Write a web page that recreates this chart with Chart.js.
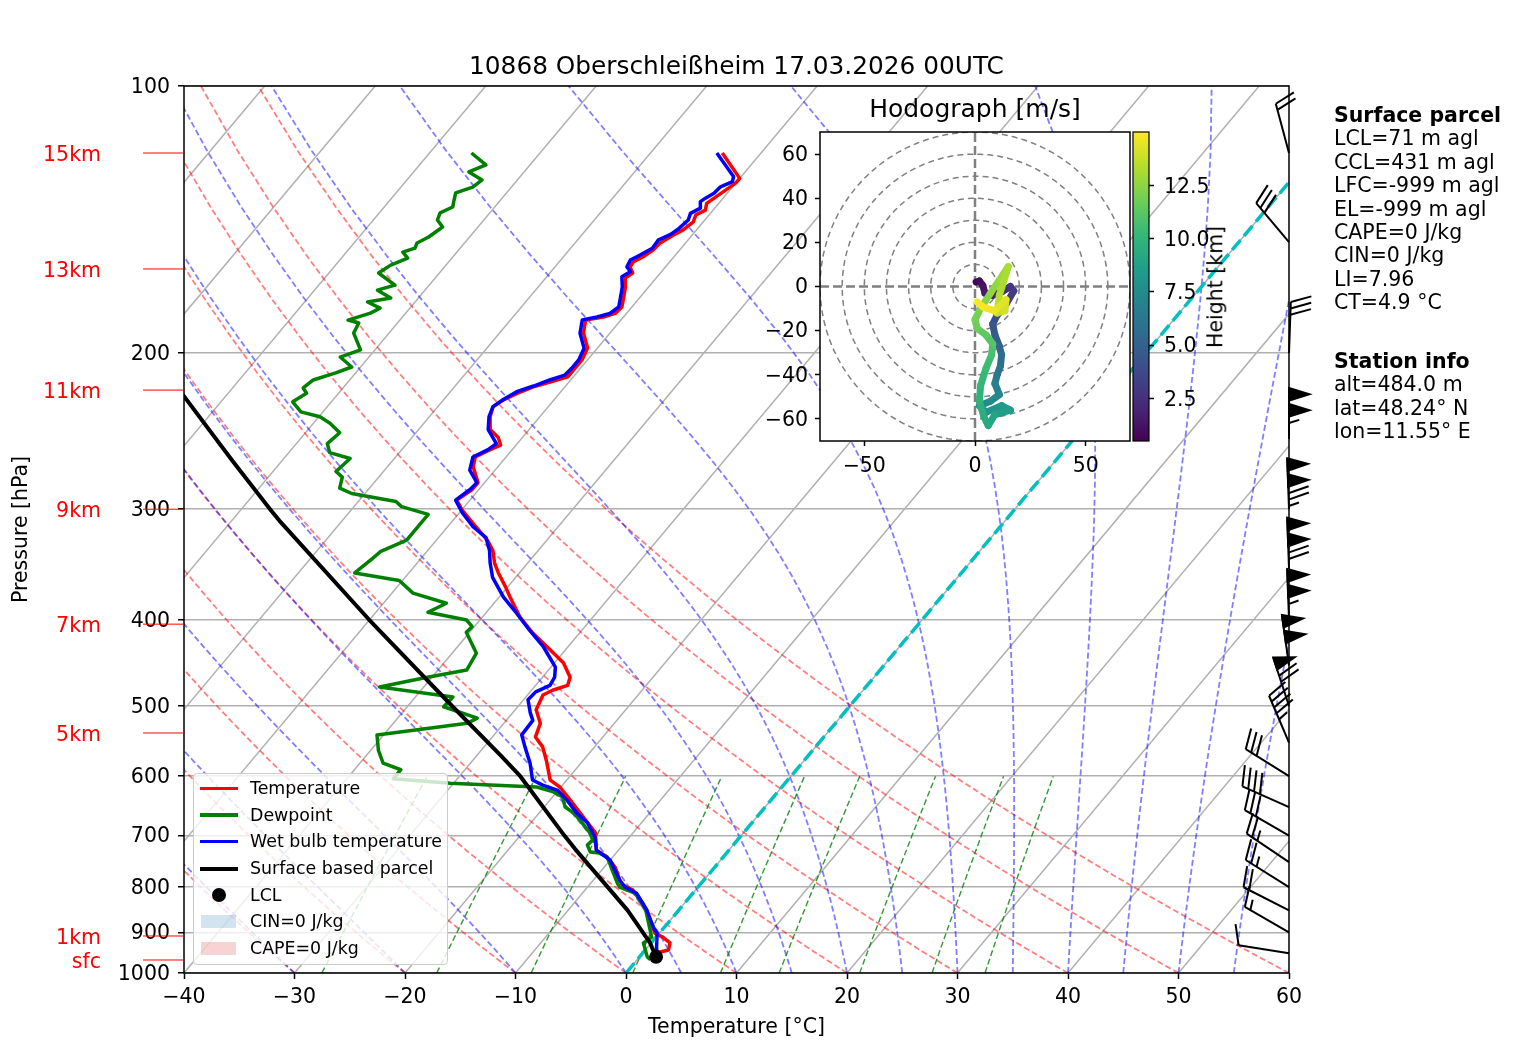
<!DOCTYPE html>
<html>
<head>
<meta charset="utf-8">
<title>10868 Oberschleißheim skew-T</title>
<script src="https://cdn.jsdelivr.net/npm/chart.js@4.4.1/dist/chart.umd.min.js"></script>
<style>
  body { margin: 0; background: #fff; font-family: "DejaVu Sans", sans-serif; }
  #fig { position: relative; width: 1517px; height: 1060px; overflow: hidden; background: #fff; }
  #fig canvas { position: absolute; }
  .lbl { position: absolute; white-space: nowrap; color: #000; font-size: 20.5px; line-height: 23.4px; }
  .km { color: #ff0000; text-align: right; width: 100px; left: 1px; }
  #title { left: 184px; width: 1105px; top: 53.5px; text-align: center; font-size: 24.8px; line-height: 24.8px; }
  #hodoTitle { left: 820px; width: 310px; top: 95.5px; text-align: center; font-size: 25px; line-height: 25px; }
  #cbarTitle { left: 1216px; top: 287px; transform: translate(-50%, -50%) rotate(-90deg); }
  #legend { position: absolute; left: 193px; top: 773px; width: 255px; height: 192px; box-sizing: border-box;
            border: 1px solid #cccccc; border-radius: 4px; background: rgba(255,255,255,0.8); font-size: 17.4px; }
  #legend .row { position: absolute; left: 0; width: 100%; height: 26.67px; line-height: 26.67px; }
  #legend .t { position: absolute; left: 56px; top: 0; white-space: nowrap; }
  #legend .ln { position: absolute; left: 6px; width: 38px; top: 11.6px; height: 3.5px; }
  #legend .dot { position: absolute; left: 18px; top: 6.3px; width: 14px; height: 14px; border-radius: 50%; background: #000; }
  #legend .patch { position: absolute; left: 7px; top: 7px; width: 35px; height: 12.5px; }
</style>
</head>
<body>
<div id="fig">
  <canvas id="skewt" width="1517" height="1060" style="left:0;top:0"></canvas>
  <canvas id="hodo" width="380" height="400" style="left:760px;top:86px"></canvas>
  <canvas id="cbar" width="120" height="400" style="left:1130px;top:86px"></canvas>

  <div class="lbl" id="title">10868 Oberschleißheim 17.03.2026 00UTC</div>
  <div class="lbl" id="hodoTitle">Hodograph [m/s]</div>
  <div class="lbl" id="cbarTitle">Height [km]</div>

  <div class="lbl" style="left:1334px;top:104px"><b>Surface parcel</b><br>LCL=71 m agl<br>CCL=431 m agl<br>LFC=-999 m agl<br>EL=-999 m agl<br>CAPE=0 J/kg<br>CIN=0 J/kg<br>LI=7.96<br>CT=4.9 °C</div>
  <div class="lbl" style="left:1334px;top:350px"><b>Station info</b><br>alt=484.0 m<br>lat=48.24° N<br>lon=11.55° E</div>

  <div id="legend">
    <div class="row" style="top:1px"><span class="ln" style="background:#ff0000"></span><span class="t">Temperature</span></div>
    <div class="row" style="top:27.7px"><span class="ln" style="background:#008000"></span><span class="t">Dewpoint</span></div>
    <div class="row" style="top:54.3px"><span class="ln" style="background:#0000ff"></span><span class="t">Wet bulb temperature</span></div>
    <div class="row" style="top:81px"><span class="ln" style="background:#000;height:4px"></span><span class="t">Surface based parcel</span></div>
    <div class="row" style="top:107.7px"><span class="dot"></span><span class="t">LCL</span></div>
    <div class="row" style="top:134.3px"><span class="patch" style="background:rgba(31,119,180,0.2)"></span><span class="t">CIN=0 J/kg</span></div>
    <div class="row" style="top:161px"><span class="patch" style="background:rgba(214,39,40,0.2)"></span><span class="t">CAPE=0 J/kg</span></div>
  </div>
</div>

<script>
// ---- sounding (pressure hPa, °C) ----
const tempP = [966, 959, 947, 942, 925, 911, 902, 872, 834, 806, 796, 786, 760, 740, 727, 695, 667, 638, 617, 606,
  578, 556, 542, 523, 505, 486, 480, 474, 464, 447, 432, 414, 397, 377, 367, 354, 345, 334, 325, 311,
  301, 293, 285, 280, 269, 262, 257, 254, 249, 244, 236, 230, 226, 222, 218.5, 215.7, 212.8, 209, 203.6, 197.4,
  189.9, 183.6, 182.2, 180.3, 177.5, 172.9, 168.5, 164.6, 162.5, 160, 157.9, 155.9, 153.1, 150.3, 147.2,
  145.3, 142.3, 139.8, 138, 135.6, 131.7, 128.6, 127.1, 119];
const tempT = [2.0, 1.6, 1.5, 2.1, 1.7, 0.6, -0.4, -1.8, -3.8, -5.7, -7.0, -7.6, -9.0, -10.5, -12.0, -13.4, -15.7, -18.2, -20.1, -21.5,
  -23.2, -24.7, -26.1, -26.7, -28.1, -28.6, -28.1, -27.1, -27.5, -29.2, -31.4, -34.2, -36.6, -39.0, -40.2, -41.9, -43.0, -44.1, -45.4, -48.0,
  -49.9, -51.2, -50.6, -50.6, -52.2, -52.8, -52.0, -51.4, -52.2, -53.5, -54.5, -55.0, -54.6, -53.8, -52.9, -51.7, -50.5, -50.5, -50.5, -50.9,
  -52.4, -53.2, -51.8, -51.0, -50.9, -51.5, -52.1, -52.8, -52.5, -53.2, -53.3, -52.8, -52.4, -52.3, -51.7,
  -51.2, -50.9, -51.2, -50.7, -51.1, -50.5, -50.0, -50.0, -53.5];

const wetP = [966, 959, 935, 902, 888, 849, 813, 800, 786, 746, 727, 703, 677, 660, 638, 622, 614, 606, 580, 556,
  539, 519, 509, 492, 482, 474, 464, 452, 429, 411, 393, 377, 358, 345, 334, 323, 314, 303, 293, 285,
  280, 271, 262, 257, 253, 244, 236, 229.9, 225.5, 221.1, 217.9, 214.5, 211.8, 208.1, 203.6, 197.5, 190, 183.6, 182.1, 180.5,
  177.4, 172.8, 168.4, 164.1, 161.9, 159.9, 157.1, 155.1, 152.4, 149.2, 147, 144.7, 141.6, 139.2, 137.3,
  135, 133.8, 132.1, 129.9, 128.2, 126.5, 119];
const wetT = [1.6, 1.6, 0.8, -0.2, -1.0, -2.9, -5.1, -6.6, -7.6, -10.0, -12.0, -13.1, -14.9, -16.6, -18.5, -20.1, -21.8, -23.1, -24.6, -26.3,
  -27.5, -27.6, -28.4, -29.6, -29.5, -28.7, -28.9, -29.6, -32.2, -34.7, -37.2, -39.6, -42.1, -43.4, -44.4, -45.7, -47.7, -49.7, -51.3, -50.8,
  -50.7, -52.3, -53.0, -52.2, -51.9, -53.7, -54.6, -55.0, -54.6, -54.0, -52.9, -51.9, -50.9, -50.8, -50.8, -51.2, -52.7, -53.5, -52.4, -51.5,
  -51.2, -51.8, -52.4, -53.2, -52.8, -53.5, -53.7, -53.2, -52.6, -52.7, -52.0, -51.7, -51.5, -51.8, -51.3,
  -51.8, -51.6, -51.2, -51.1, -50.4, -50.7, -54.0];

const dewP = [966, 959, 925, 911, 849, 813, 800, 792, 740, 732.5, 730.6, 717.5, 708, 695, 672, 660, 650, 633, 625, 617,
  611, 604, 590, 580, 561, 539, 523, 516, 501, 488.5, 476, 465, 455.5, 436, 413, 407, 400, 392, 383, 373,
  361, 354, 341, 335, 325, 314, 304, 298, 294, 288, 284, 276, 272, 263, 259, 253, 246, 240, 236, 233,
  227, 222, 219, 214.5, 210.6, 207.4, 202.1, 198.4, 189.9, 185, 183.6, 180.3, 178, 175.2, 173.4,
  169.9, 167.7, 162.5, 159.2, 156.3, 153.9, 152.3, 150.3, 148, 144.2, 141.6, 139, 136.9, 135.1, 132,
  130, 127.6, 125, 122.7, 119];
const dewT = [1.2, 0.7, -0.7, -0.4, -3.0, -5.2, -7.1, -7.6, -10.5, -11.5, -12.4, -13.2, -13.1, -13.9, -15.8, -16.9, -18.1, -19.1, -20.3, -22.2,
  -30.3, -35.8, -35.8, -37.9, -39.3, -40.6, -33.3, -32.8, -36.7, -36.6, -44.0, -40.7, -37.4, -37.8, -40.3, -40.2, -41.2, -45.3, -44.3, -48.1,
  -50.3, -54.9, -54.4, -54.2, -52.7, -52.7, -52.7, -55.7, -56.6, -61.2, -62.7, -63.3, -64.3, -64.0, -66.3, -67.2, -66.9, -68.5, -69.9, -72.0,
  -73.5, -72.9, -73.6, -73.3, -71.8, -70.8, -72.6, -71.3, -73.2, -73.5, -74.7, -73.2, -72.7, -74.3, -72.5,
  -74.3, -73.1, -75.5, -75.0, -74.0, -74.9, -74.1, -74.3, -73.7, -73.2, -74.2, -74.5, -73.8, -74.1, -74.6,
  -73.5, -73.2, -75.0, -74.0, -76.2];

const parcelP = [966, 959, 925, 850, 725, 700, 600, 568, 500, 400, 309, 300, 264, 224, 215];
const parcelT = [2.0, 1.5, -0.1, -4.6, -14.0, -16.0, -24.5, -27.9, -36.0, -50.0, -65.7, -67.4, -74.6, -83.7, -86.0];
const lclP = [959];
const lclT = [1.5];

// wind barbs (direction deg, speed kt)
const barbP = [950, 900, 850, 800, 750, 700, 650, 600, 550, 500, 450, 400, 350, 300, 250, 200, 150, 119];
const barbDir = [279, 300, 297, 302, 304, 300, 294, 302, 337, 342, 352, 358, 358, 358, 360, 2, 320, 345];
const barbSpd = [10, 15, 20, 25, 25, 30, 40, 30, 45, 70, 100, 105, 120, 125, 105, 30, 30, 20];

// hodograph (m/s) coloured by height (km)
const hodoU = [0.5, 2.0, 3.5, 4.5, 8.0, 12.0, 16.0, 17.5, 14.0, 10.0, 8.0, 9.0, 11.0, 12.0, 11.5, 10.0, 9.0, 11.0, 7.0, 2.0,
  5.0, 12.0, 16.0, 9.0, 6.0, 4.0, 2.0, 2.5, 5.0, 7.5, 8.0, 5.0, 1.0, 0.0, 2.5, 7.0, 11.0, 15.0, 11.0, 10.0,
  13.5, 14.0, 9.0, 4.0, 1.0];
const hodoV = [2.0, 2.5, 0.5, -3.0, -4.0, -2.5, 0.0, -2.0, -8.0, -13.0, -17.0, -22.0, -27.0, -31.0, -36.0, -40.0, -44.0, -49.0, -52.0, -54.0,
  -57.0, -54.0, -56.0, -58.0, -63.0, -59.0, -52.0, -45.0, -37.0, -31.0, -26.0, -22.0, -19.0, -15.0, -10.0, -3.0, 3.0, 9.0, -4.0, -12.0,
  -11.0, -6.0, -11.0, -9.5, -7.0];
const hodoH = [0.5, 0.8, 1.1, 1.4, 1.8, 2.2, 2.6, 3.0, 3.4, 3.8, 4.2, 4.6, 5.0, 5.4, 5.8, 6.2, 6.6, 7.0, 7.3, 7.6,
  7.9, 8.2, 8.5, 8.8, 9.1, 9.4, 9.7, 10.0, 10.3, 10.6, 10.9, 11.2, 11.5, 11.8, 12.1, 12.4, 12.7, 13.0, 13.3, 13.6,
  13.9, 14.2, 14.5, 14.8, 15.0];

// axis ticks and side labels
const pressureTicks = [100, 200, 300, 400, 500, 600, 700, 800, 900, 1000];
const tempTicks = [-40, -30, -20, -10, 0, 10, 20, 30, 40, 50, 60];
const hodoXTicks = [-50, 0, 50];
const hodoYTicks = [-60, -40, -20, 0, 20, 40, 60];
const cbarTicks = [2.5, 5, 7.5, 10, 12.5];
const kmLabels = ['15km', '13km', '11km', '9km', '7km', '5km', '1km', 'sfc'];
const kmP = [119, 160.8, 220.2, 300, 404.3, 536.3, 908.4, 966.8];

const FONT = '"DejaVu Sans", sans-serif';
const minus = v => String(v).replace('-', '\u2212');

// skewed temperature axis: isotherms lean right with height
const SKEW = 67.3;
const skewX = (t, p) => t + SKEW * Math.log10(1000 / p);
const profile = (ps, ts) => ps.map((p, i) => ({ x: skewX(ts[i], p), y: p }));

function lineSet(data, color, width, dash) {
  return { data: data, showLine: true, borderColor: color, borderWidth: width, borderDash: dash || [],
    pointRadius: 0, fill: false, tension: 0, clip: 0, borderJoinStyle: 'round' };
}

// background thermodynamic lines (the usual skew-T furniture)
const bgP = [];
for (let i = 0; i < 50; i++) bgP.push(1000 - i * 900 / 49);

function dryAdiabat(th) {
  return bgP.map(p => ({ x: skewX((th + 273.15) * Math.pow(p / 1000, 0.2857) - 273.15, p), y: p }));
}

function moistLapse(p, tK) {
  const Rd = 287.04749, Cp = 1004.666, Lv = 2.50084e6, eps = 0.6219569;
  const tc = tK - 273.15;
  const es = 6.112 * Math.exp(17.67 * tc / (tc + 243.5));
  const rs = eps * es / (p - es);
  return (Rd * tK + Lv * rs) / (Cp + Lv * Lv * rs * eps / (Rd * tK * tK)) / p;
}

function moistAdiabat(t0) {
  let T = t0 + 273.15, p = 1000;
  const out = [{ x: skewX(t0, 1000), y: 1000 }];
  const h = -900 / 49 / 4;
  for (let i = 1; i < 50; i++) {
    for (let k = 0; k < 4; k++) {
      const k1 = moistLapse(p, T);
      const k2 = moistLapse(p + h / 2, T + h / 2 * k1);
      const k3 = moistLapse(p + h / 2, T + h / 2 * k2);
      const k4 = moistLapse(p + h, T + h * k3);
      T += h / 6 * (k1 + 2 * k2 + 2 * k3 + k4);
      p += h;
    }
    out.push({ x: skewX(T - 273.15, p), y: p });
  }
  return out;
}

function mixingLine(w) {
  const out = [];
  for (let p = 1000; p >= 600; p -= 50) {
    const e = p * w / (0.622 + w);
    const l = Math.log(e / 6.112);
    out.push({ x: skewX(243.5 * l / (17.67 - l), p), y: p });
  }
  return out;
}

const datasets = [
  { data: profile(lclP, lclT), pointRadius: 7, pointBackgroundColor: '#000', pointBorderWidth: 0, showLine: false, clip: false },
  lineSet(profile(parcelP, parcelT), '#000000', 4),
  lineSet(profile(wetP, wetT), '#0000ff', 3.5),
  lineSet(profile(dewP, dewT), '#008000', 3.5),
  lineSet(profile(tempP, tempT), '#ff0000', 3.5),
  lineSet([{ x: skewX(0, 1000), y: 1000 }, { x: skewX(0, 100), y: 100 }], '#00bfbf', 3.5, [13, 5.5])
];
[0.0004, 0.001, 0.002, 0.004, 0.007, 0.01, 0.016, 0.024, 0.032].forEach(w =>
  datasets.push(lineSet(mixingLine(w), 'rgba(0,128,0,0.8)', 1.4, [6, 3])));
[-40, -30, -20, -10, 0, 5, 10, 15, 20, 25, 30, 35, 40, 45, 50, 55, 60].forEach(t =>
  datasets.push(lineSet(moistAdiabat(t), 'rgba(0,0,255,0.5)', 1.8, [6, 3])));
for (let th = -40; th <= 60; th += 10)
  datasets.push(lineSet(dryAdiabat(th), 'rgba(255,0,0,0.5)', 1.8, [6, 3]));
for (let t = -120; t <= 60; t += 10)
  datasets.push(lineSet([{ x: skewX(t, 1000), y: 1000 }, { x: skewX(t, 100), y: 100 }], '#b0b0b0', 1.5));

function drawBarb(ctx, x0, y0, dir, spd) {
  const L = 51, fh = 0.4 * L, fw = 0.25 * L, sp = 0.125 * L;
  const d = dir * Math.PI / 180;
  const X = [Math.cos(d), Math.sin(d)], S = [Math.sin(d), -Math.cos(d)];
  const P = (a, b) => [x0 + a * X[0] + b * S[0], y0 + a * X[1] + b * S[1]];
  const seg = (a, b) => { ctx.beginPath(); ctx.moveTo(a[0], a[1]); ctx.lineTo(b[0], b[1]); ctx.stroke(); };
  let v = Math.round(spd / 5) * 5;
  const nf = Math.floor(v / 50); v -= nf * 50;
  const nb = Math.floor(v / 10); v -= nb * 10;
  const half = v >= 5;
  seg(P(0, 0), P(0, L));
  let off = L;
  for (let i = 0; i < nf; i++) {
    if (off !== L) off += sp / 2;
    const a = P(0, off), b = P(fh, off - fw / 2), c = P(0, off - fw);
    ctx.beginPath(); ctx.moveTo(a[0], a[1]); ctx.lineTo(b[0], b[1]); ctx.lineTo(c[0], c[1]); ctx.closePath();
    ctx.fill(); ctx.stroke();
    off -= fw + sp;
  }
  for (let i = 0; i < nb; i++) {
    seg(P(0, off), P(fh, off + fw / 2));
    off -= sp;
  }
  if (half) {
    if (off === L) off -= 1.5 * sp;
    seg(P(0, off), P(fh / 2, off + fw / 4));
  }
}

const skewDecor = {
  id: 'skewDecor',
  afterDraw(chart) {
    const { ctx, chartArea: a, scales } = chart;
    ctx.save();
    ctx.strokeStyle = '#000';
    ctx.lineWidth = 1.5;
    ctx.strokeRect(a.left, a.top, a.right - a.left, a.bottom - a.top);
    // height markers on the left
    ctx.strokeStyle = '#ff0000';
    ctx.lineWidth = 1;
    kmP.forEach(p => {
      const y = scales.y.getPixelForValue(p);
      ctx.beginPath(); ctx.moveTo(a.left - 41, y); ctx.lineTo(a.left, y); ctx.stroke();
    });
    // wind barbs along the right edge
    ctx.strokeStyle = '#000';
    ctx.fillStyle = '#000';
    ctx.lineWidth = 2;
    ctx.lineJoin = 'miter';
    barbP.forEach((p, i) => drawBarb(ctx, a.right, scales.y.getPixelForValue(p), barbDir[i], barbSpd[i]));
    ctx.restore();
  }
};

const tickFont = { family: FONT, size: 20.5 };

const mainChart = new Chart(document.getElementById('skewt'), {
  type: 'scatter',
  data: { datasets: datasets },
  options: {
    responsive: false,
    animation: false,
    events: [],
    layout: { padding: { left: 0, top: 86, right: 228, bottom: 0 } },
    plugins: { legend: { display: false }, tooltip: { enabled: false } },
    scales: {
      x: {
        type: 'linear', min: -40, max: 60,
        afterBuildTicks: s => { s.ticks = tempTicks.map(v => ({ value: v })); },
        afterFit: s => { s.height = 87; },
        grid: { drawOnChartArea: false, tickLength: 6, tickColor: '#000', tickWidth: 1.5 },
        border: { display: false },
        ticks: { font: tickFont, color: '#000', padding: 6.5, maxRotation: 0, autoSkip: false, callback: v => minus(v) },
        title: { display: true, text: 'Temperature [°C]', font: tickFont, color: '#000', padding: { top: 0, bottom: 20 } }
      },
      y: {
        type: 'logarithmic', min: 100, max: 1000, reverse: true,
        afterBuildTicks: s => { s.ticks = pressureTicks.map(v => ({ value: v })); },
        afterFit: s => { s.width = 184; },
        grid: { color: '#b0b0b0', lineWidth: 1.5, tickLength: 6, tickColor: '#000', tickWidth: 1.5 },
        border: { display: false },
        ticks: { font: tickFont, color: '#000', padding: 8, labelOffset: 1.5, autoSkip: false, callback: v => String(v) },
        title: { display: true, text: 'Pressure [hPa]', font: tickFont, color: '#000', padding: { top: 9.5, bottom: 0 } }
      }
    }
  },
  plugins: [skewDecor]
});

// height labels next to the pressure axis
const fig = document.getElementById('fig');
kmLabels.forEach((txt, i) => {
  const d = document.createElement('div');
  d.className = 'lbl km';
  d.textContent = txt;
  d.style.top = (mainChart.scales.y.getPixelForValue(kmP[i]) - 10.2) + 'px';
  fig.appendChild(d);
});

// ---- hodograph inset ----
const VIRIDIS = ['#440154', '#482878', '#3e4989', '#31688e', '#26828e', '#1f9e89', '#35b779', '#6ece58', '#b5de2b', '#fde725'];
function viridis(f) {
  f = Math.min(1, Math.max(0, f)) * (VIRIDIS.length - 1);
  const i = Math.min(VIRIDIS.length - 2, Math.floor(f)), r = f - i;
  const c0 = parseInt(VIRIDIS[i].slice(1), 16), c1 = parseInt(VIRIDIS[i + 1].slice(1), 16);
  const ch = s => Math.round(((c0 >> s) & 255) * (1 - r) + ((c1 >> s) & 255) * r);
  return 'rgb(' + ch(16) + ',' + ch(8) + ',' + ch(0) + ')';
}
const hMin = Math.min.apply(null, hodoH), hMax = Math.max.apply(null, hodoH);
const hNorm = h => (h - hMin) / (hMax - hMin);

const hodoSets = [{
  data: hodoU.map((u, i) => ({ x: u, y: hodoV[i] })),
  showLine: true, pointRadius: 0, borderWidth: 7, tension: 0, clip: 0,
  borderJoinStyle: 'round', borderCapStyle: 'round',
  borderColor: viridis(0),
  segment: { borderColor: c => viridis(hNorm((hodoH[c.p0DataIndex] + hodoH[c.p1DataIndex]) / 2)) }
}];
hodoSets.push(lineSet([{ x: -70, y: 0 }, { x: 70, y: 0 }], '#808080', 2.5, [9, 4]));
hodoSets.push(lineSet([{ x: 0, y: -70 }, { x: 0, y: 70 }], '#808080', 2.5, [9, 4]));
for (let r = 10; r <= 70; r += 10) {
  const ring = [];
  for (let a = 0; a <= 360; a += 4) ring.push({ x: r * Math.cos(a * Math.PI / 180), y: r * Math.sin(a * Math.PI / 180) });
  hodoSets.push(lineSet(ring, '#808080', 1.5, [6, 4]));
}

const boxFrame = {
  id: 'boxFrame',
  beforeDraw(chart) {
    const { ctx, chartArea: a } = chart;
    ctx.save(); ctx.fillStyle = '#fff'; ctx.fillRect(a.left, a.top, a.right - a.left, a.bottom - a.top); ctx.restore();
  },
  afterDraw(chart) {
    const { ctx, chartArea: a } = chart;
    ctx.save(); ctx.strokeStyle = '#000'; ctx.lineWidth = 1.5;
    ctx.strokeRect(a.left, a.top, a.right - a.left, a.bottom - a.top); ctx.restore();
  }
};

new Chart(document.getElementById('hodo'), {
  type: 'scatter',
  data: { datasets: hodoSets },
  options: {
    responsive: false, animation: false, events: [],
    layout: { padding: { left: 0, top: 46, right: 10, bottom: 0 } },
    plugins: { legend: { display: false }, tooltip: { enabled: false } },
    scales: {
      x: {
        type: 'linear', min: -70, max: 70,
        afterBuildTicks: s => { s.ticks = hodoXTicks.map(v => ({ value: v })); },
        afterFit: s => { s.height = 45; },
        grid: { drawOnChartArea: false, tickLength: 5, tickColor: '#000', tickWidth: 1.5 },
        border: { display: false },
        ticks: { font: tickFont, color: '#000', padding: 8, maxRotation: 0, autoSkip: false, callback: v => minus(v) }
      },
      y: {
        type: 'linear', min: -70, max: 70,
        afterBuildTicks: s => { s.ticks = hodoYTicks.map(v => ({ value: v })); },
        afterFit: s => { s.width = 60; },
        grid: { drawOnChartArea: false, tickLength: 5, tickColor: '#000', tickWidth: 1.5 },
        border: { display: false },
        ticks: { font: tickFont, color: '#000', padding: 7, labelOffset: 1.5, autoSkip: false, callback: v => minus(v) }
      }
    }
  },
  plugins: [boxFrame]
});

// ---- colour bar for the hodograph heights ----
const cbarFill = {
  id: 'cbarFill',
  beforeDatasetsDraw(chart) {
    const { ctx, chartArea: a } = chart;
    const g = ctx.createLinearGradient(0, a.bottom, 0, a.top);
    VIRIDIS.forEach((c, i) => g.addColorStop(i / (VIRIDIS.length - 1), c));
    ctx.save();
    ctx.fillStyle = g;
    ctx.fillRect(a.left, a.top, a.right - a.left, a.bottom - a.top);
    ctx.strokeStyle = '#000'; ctx.lineWidth = 1.2;
    ctx.strokeRect(a.left, a.top, a.right - a.left, a.bottom - a.top);
    ctx.restore();
  }
};

new Chart(document.getElementById('cbar'), {
  type: 'scatter',
  data: { datasets: [] },
  options: {
    responsive: false, animation: false, events: [],
    layout: { padding: { left: 3, top: 46, right: 0, bottom: 45 } },
    plugins: { legend: { display: false }, tooltip: { enabled: false } },
    scales: {
      x: { type: 'linear', display: false, min: 0, max: 1 },
      y: {
        type: 'linear', position: 'right', min: hMin, max: hMax,
        afterBuildTicks: s => { s.ticks = cbarTicks.map(v => ({ value: v })); },
        afterFit: s => { s.width = 101; },
        grid: { drawOnChartArea: false, tickLength: 5, tickColor: '#000', tickWidth: 1.5 },
        border: { display: false },
        ticks: { font: tickFont, color: '#000', padding: 10, labelOffset: 2, autoSkip: false, callback: v => v.toFixed(1) }
      }
    }
  },
  plugins: [cbarFill]
});
</script>
</body>
</html>
